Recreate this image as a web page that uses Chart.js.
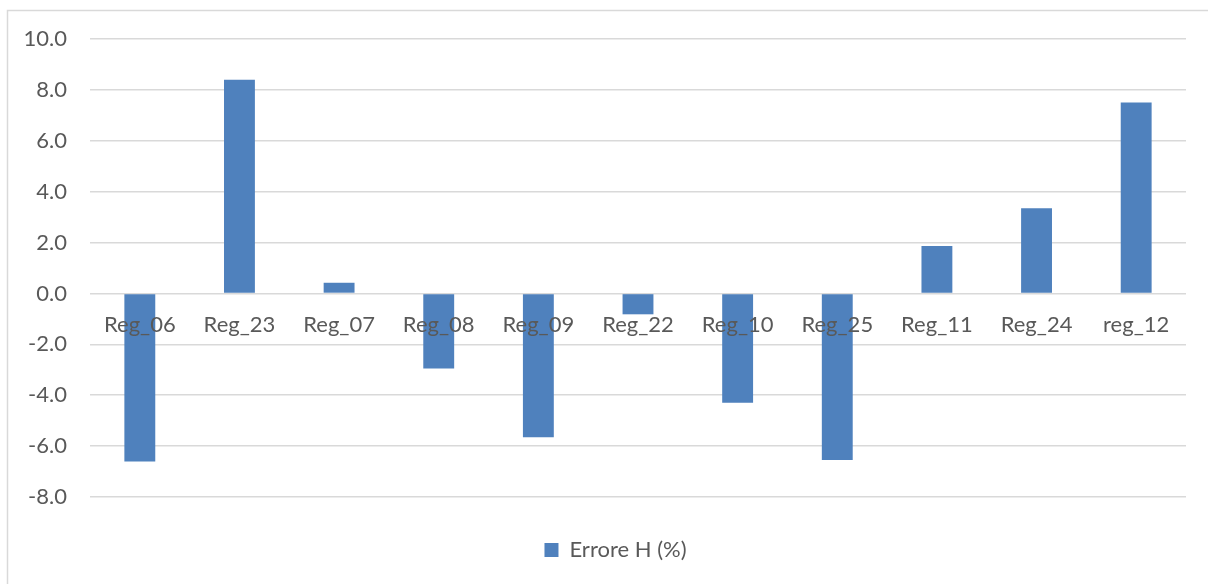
<!DOCTYPE html>
<html>
<head>
<meta charset="utf-8">
<script src="https://cdn.jsdelivr.net/npm/chart.js@4"></script>
<style>
  html, body { margin: 0; padding: 0; background: #fff; }
  #wrap { position: relative; width: 1208px; height: 584px; }
</style>
</head>
<body>
<div id="wrap"><canvas id="errChart" width="1208" height="584"></canvas></div>
<script>
const regions = ["Reg_06", "Reg_23", "Reg_07", "Reg_08", "Reg_09", "Reg_22", "Reg_10", "Reg_25", "Reg_11", "Reg_24", "reg_12"];
const errorH = [-6.6, 8.4, 0.42, -2.95, -5.65, -0.82, -4.3, -6.55, 1.86, 3.35, 7.5];
const yMin = -8;
const yMax = 10;
const yStep = 2;

const labelFont = { family: "Lato, 'Open Sans', sans-serif", size: 22 };
const textColor = "#595959";

// thin frame around the chart, open on the right and bottom
const framePlugin = {
    id: "frame",
    beforeDraw(chart) {
        const ctx = chart.ctx;
        ctx.save();
        ctx.strokeStyle = "#d9d9d9";
        ctx.lineWidth = 1.5;
        ctx.beginPath();
        ctx.moveTo(7.5, chart.height + 5);
        ctx.lineTo(7.5, 10.5);
        ctx.lineTo(chart.width + 5, 10.5);
        ctx.stroke();
        ctx.restore();
    }
};

// invisible axis used only to reserve space
const spacer = (position, size) => ({
    type: "linear",
    position: position,
    min: 0,
    max: 1,
    grid: { display: false, drawTicks: false },
    border: { display: false },
    ticks: { display: false },
    afterFit(scale) {
        if (scale.isHorizontal()) scale.height = size;
        else scale.width = size;
    }
});

new Chart(document.getElementById("errChart"), {
    type: "bar",
    data: {
        labels: regions,
        datasets: [{
            label: "Errore H (%)",
            data: errorH,
            xAxisID: "x",
            yAxisID: "y",
            backgroundColor: "#4f81bd",
            borderWidth: 0,
            barPercentage: 0.31,
            categoryPercentage: 1
        }]
    },
    options: {
        responsive: false,
        animation: false,
        layout: { padding: { top: 39, right: 0, left: 23, bottom: 13 } },
        plugins: {
            tooltip: { enabled: false },
            legend: {
                position: "bottom",
                labels: {
                    color: textColor,
                    font: labelFont,
                    boxWidth: 14,
                    boxHeight: 14,
                    padding: 10
                }
            }
        },
        scales: {
            // category labels sit just under the zero line, over the bars
            x: {
                type: "category",
                position: { y: 0 },
                grid: { display: false, drawTicks: false },
                border: { display: false },
                ticks: { z: 1, color: textColor, font: labelFont, padding: 18, maxRotation: 0, autoSkip: false }
            },
            y: {
                type: "linear",
                min: yMin,
                max: yMax,
                afterFit(scale) { scale.width = 67; },
                grid: { color: "#d9d9d9", lineWidth: 1.5, drawTicks: false },
                border: { display: false },
                ticks: {
                    stepSize: yStep,
                    color: textColor,
                    font: labelFont,
                    padding: 23,
                    callback: v => v.toFixed(1)
                }
            },
            gapBottom: spacer("bottom", 32),
            gapRight: spacer("right", 22)
        }
    },
    plugins: [framePlugin]
});
</script>
</body>
</html>
